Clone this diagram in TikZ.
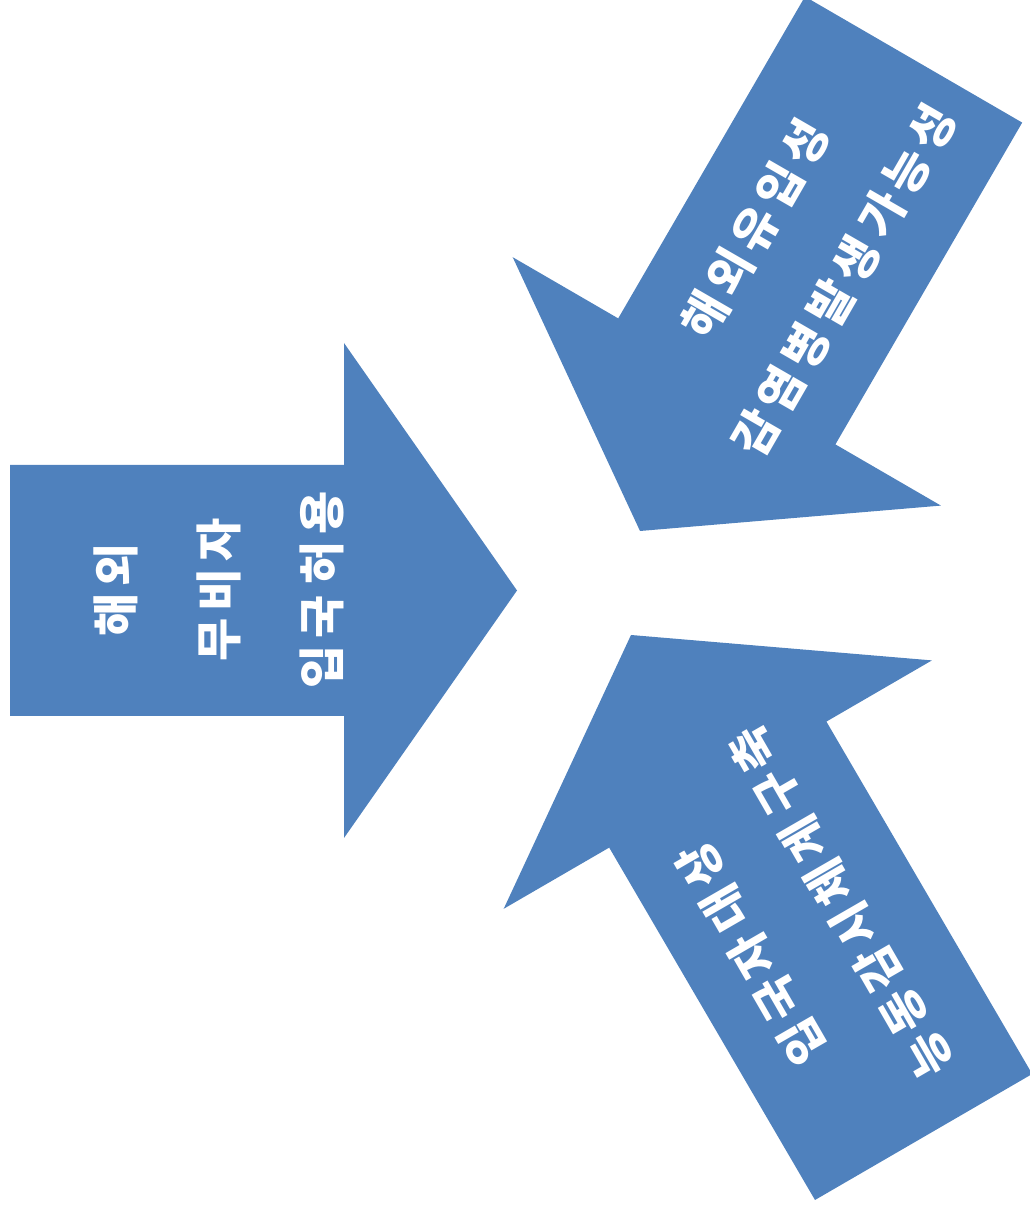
\documentclass[tikz,border=0pt]{standalone}
\usepackage{fontspec}
\newfontfamily\kr{Noto Sans CJK KR}[LetterSpace=14, WordSpace=0.6]
\definecolor{arrowblue}{HTML}{4F81BD}
\begin{document}
\begin{tikzpicture}[x=1pt,y=1pt,
  arrowshape/.style={fill=arrowblue, draw=none},
  arrowtext/.style={text=white, align=center, inner sep=0pt,
    font=\kr\bfseries\fontsize{47}{103}\selectfont}]
\useasboundingbox (0,0) rectangle (1030,1216);
% left arrow (points right)
\path[arrowshape] (10,751) -- (344,751) -- (344,873) -- (517,625.5) -- (344,378) -- (344,500) -- (10,500) -- cycle;
% top-right arrow (points down-left)
\path[arrowshape] (640,685) -- (512.7,958.8) -- (618.2,897.6) -- (805,1219.4) -- (1022.2,1093.4) -- (835.4,771.6) -- (940.9,710.4) -- cycle;
% bottom-right arrow (points up-left)
\path[arrowshape] (631,581) -- (931.9,555.6) -- (826.4,494.4) -- (1032.2,142) -- (815,16) -- (609.2,368.4) -- (503.7,307.2) -- cycle;
% texts
\node[arrowtext, rotate=90] (leftText) at (219,626) {해외\\무비자\\입국 허용};
\node[arrowtext, rotate=60] (topText) at (799.5,961.5) {해외유입성\\감염병발생 가능성};
\node[arrowtext, rotate=120] (bottomText) at (796,288) {입국자 대상\\능동감시체계 구축};
\end{tikzpicture}
\end{document}
